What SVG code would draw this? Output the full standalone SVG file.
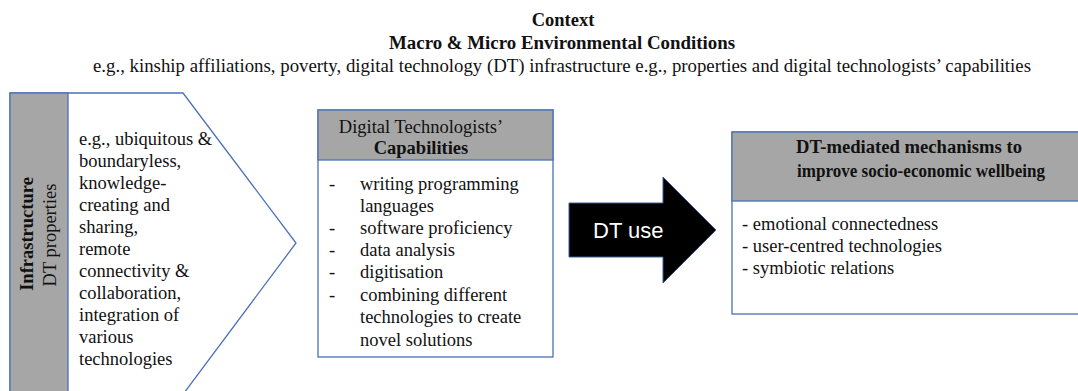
<svg xmlns="http://www.w3.org/2000/svg" width="1078" height="391" viewBox="0 0 1078 391">
<style>
.t{font-family:"Liberation Serif","Times New Roman",serif;font-size:18.5px;fill:#111}
.b{font-weight:bold}
.m{text-anchor:middle}
.box{fill:#fff;stroke:#4a72b8;stroke-width:1.3}
.hdr{fill:#a6a6a6;stroke:#4a72b8;stroke-width:1.3}
.use{font-family:"Liberation Sans",Arial,sans-serif;font-size:22px;fill:#fff}
</style>
<rect width="1078" height="391" fill="#fff"/>
<g id="context">
<text class="t b m" x="563" y="26">Context</text>
<text class="t b m" x="562" y="49" textLength="346" lengthAdjust="spacingAndGlyphs">Macro &amp; Micro Environmental Conditions</text>
<text class="t m" x="562" y="72" style="font-size:19.5px" textLength="938" lengthAdjust="spacingAndGlyphs">e.g., kinship affiliations, poverty, digital technology (DT)  infrastructure e.g., properties and digital technologists’ capabilities</text>
</g>
<g id="infrastructure">
<polygon class="box" points="10,93 183,93 296,243 184,393 10,393"/>
<rect class="hdr" x="10" y="93" width="58" height="300"/>
<text class="t b m" transform="translate(33,234) rotate(-90)">Infrastructure</text>
<text class="t m" transform="translate(56,235) rotate(-90)">DT properties</text>
<text class="t" x="79" y="145">e.g., ubiquitous &amp;</text>
<text class="t" x="79" y="167">boundaryless,</text>
<text class="t" x="79" y="189">knowledge-</text>
<text class="t" x="79" y="211">creating and</text>
<text class="t" x="79" y="233">sharing,</text>
<text class="t" x="79" y="255">remote</text>
<text class="t" x="79" y="277">connectivity &amp;</text>
<text class="t" x="79" y="299">collaboration,</text>
<text class="t" x="79" y="321">integration of</text>
<text class="t" x="79" y="343">various</text>
<text class="t" x="79" y="365">technologies</text>
</g>
<g id="capabilities">
<rect class="box" x="318" y="110" width="235" height="247"/>
<rect class="hdr" x="318" y="110" width="235" height="50"/>
<text class="t m" x="421" y="133">Digital Technologists’</text>
<text class="t b m" x="421" y="154">Capabilities</text>
<g class="t">
<text x="329" y="190">-</text><text x="360" y="190">writing programming</text>
<text x="360" y="212">languages</text>
<text x="329" y="234">-</text><text x="360" y="234">software proficiency</text>
<text x="329" y="256">-</text><text x="360" y="256">data analysis</text>
<text x="329" y="278">-</text><text x="360" y="278">digitisation</text>
<text x="329" y="301">-</text><text x="360" y="301">combining different</text>
<text x="360" y="323">technologies to create</text>
<text x="360" y="346">novel solutions</text>
</g>
</g>
<g id="mechanisms">
<rect class="box" x="732" y="132" width="380" height="182"/>
<rect class="hdr" x="732" y="132" width="380" height="69"/>
<text class="t b" x="796" y="153" textLength="226" lengthAdjust="spacingAndGlyphs">DT-mediated mechanisms to</text>
<text class="t b" x="797" y="177" textLength="248" lengthAdjust="spacingAndGlyphs">improve socio-economic wellbeing</text>
<text class="t" x="742" y="230">- emotional connectedness</text>
<text class="t" x="742" y="252">- user-centred technologies</text>
<text class="t" x="742" y="274">- symbiotic relations</text>
</g>
<g id="connectors">
<polygon points="569,203 663,203 663,177 716,230 663,283 663,257 569,257" fill="#000" stroke="#3a5a96" stroke-width="1"/>
<text class="use" x="593" y="238">DT use</text>
</g>
</svg>
